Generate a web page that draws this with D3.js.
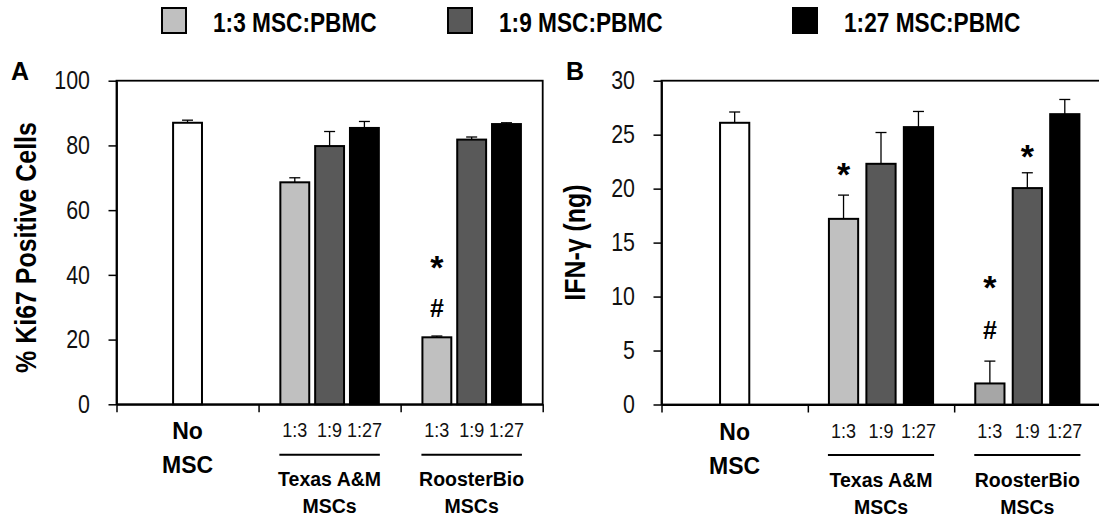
<!DOCTYPE html>
<html>
<head>
<meta charset="utf-8">
<script src="https://cdn.jsdelivr.net/npm/d3@7"></script>
<style>
  body { margin: 0; background: #fff; }
  svg { display: block; }
</style>
</head>
<body>
<svg width="1099" height="520"></svg>
<script>

// data //////////////////////////
var groups = ['No MSC', 'Texas A&M MSCs', 'RoosterBio MSCs'];
var groupLines = [['No', 'MSC'], ['Texas A&M', 'MSCs'], ['RoosterBio', 'MSCs']];
var series = ['1:3', '1:9', '1:27'];
var legendLabels = ['1:3 MSC:PBMC', '1:9 MSC:PBMC', '1:27 MSC:PBMC'];

// panel A: % Ki67 positive cells
var ki67NoMsc = 87.0, ki67NoMscErr = 0.8;
var ki67Texas = [68.6, 79.8, 85.4];
var ki67TexasErr = [1.4, 4.5, 2.0];
var ki67Rooster = [20.7, 81.8, 86.6];
var ki67RoosterErr = [0.4, 0.8, 0.4];
var ki67Ticks = [0, 20, 40, 60, 80, 100];
var ki67Marks = [
  {group: 'RoosterBio MSCs', series: '1:3', text: '*', value: 44.6},
  {group: 'RoosterBio MSCs', series: '1:3', text: '#', value: 29.7}
];

// panel B: IFN-gamma (ng)
var ifnNoMsc = 26.1, ifnNoMscErr = 1.0;
var ifnTexas = [17.2, 22.3, 25.7];
var ifnTexasErr = [2.2, 2.9, 1.45];
var ifnRooster = [1.95, 20.05, 26.9];
var ifnRoosterErr = [2.07, 1.42, 1.36];
var ifnTicks = [0, 5, 10, 15, 20, 25, 30];
var ifnMarks = [
  {group: 'Texas A&M MSCs', series: '1:3', text: '*', value: 22.0},
  {group: 'RoosterBio MSCs', series: '1:3', text: '*', value: 11.5},
  {group: 'RoosterBio MSCs', series: '1:3', text: '#', value: 6.9},
  {group: 'RoosterBio MSCs', series: '1:9', text: '*', value: 23.7}
];

var colors = ['#c0c0c0', '#595959', '#000000'];
var font = '"Liberation Sans", Arial, sans-serif';
// no narrow face installed: squeeze glyphs horizontally instead
var narrowX = 0.84;

var svg = d3.select('svg');

// legend
var legend = svg.append('g').selectAll('g').data(legendLabels).enter().append('g')
  .attr('transform', function(d, i) { return 'translate(' + [161, 447, 792][i] + ',0)'; });
legend.append('rect')
  .attr('x', 1).attr('y', 8).attr('width', 24).attr('height', 25)
  .attr('fill', function(d, i) { return colors[i]; })
  .attr('stroke', '#000').attr('stroke-width', 2);
legend.append('text')
  .attr('transform', 'translate(52,32) scale(' + narrowX + ',1)')
  .style('font-family', font).style('font-weight', 'bold').style('font-size', '27px')
  .text(function(d) { return d; });

function drawPanel(p) {
  var g = svg.append('g');

  var x = d3.scaleBand().domain(groups).range([p.left, p.right]);
  var xEdge = d3.scaleLinear().domain([0, groups.length]).range([p.left, p.right]);
  var y = d3.scaleLinear().domain([0, p.yMax]).range([p.bottom, p.top]);
  var step = x.bandwidth() * p.stepFrac;
  var bw = step * p.barFrac;

  var bars = [{group: groups[0], series: null, value: p.noMsc, err: p.noMscErr}];
  series.forEach(function(s, i) {
    bars.push({group: groups[1], series: s, value: p.texas[i], err: p.texasErr[i]});
  });
  series.forEach(function(s, i) {
    bars.push({group: groups[2], series: s, value: p.rooster[i], err: p.roosterErr[i]});
  });

  function cx(d) {
    var c = x(d.group) + x.bandwidth() / 2;
    if (!d.series) return c;
    return c + (series.indexOf(d.series) - 1) * step;
  }

  function fill(d) {
    if (!d.series) return '#fff';
    var key = d.group + '|' + d.series;
    if (p.fillOverride && p.fillOverride[key]) return p.fillOverride[key];
    return colors[series.indexOf(d.series)];
  }

  // frame
  g.append('rect')
    .attr('x', p.left).attr('y', p.top)
    .attr('width', p.right - p.left).attr('height', p.bottom - p.top)
    .attr('fill', 'none').attr('stroke', '#000').attr('stroke-width', 1.8);

  // error bars (upper only)
  var eb = g.selectAll('g.err').data(bars).enter().append('g');
  eb.append('line')
    .attr('x1', cx).attr('x2', cx)
    .attr('y1', function(d) { return y(d.value); })
    .attr('y2', function(d) { return y(d.value + d.err); })
    .attr('stroke', '#000').attr('stroke-width', 1.3);
  eb.append('line')
    .attr('x1', function(d) { return cx(d) - 5.5; })
    .attr('x2', function(d) { return cx(d) + 5.5; })
    .attr('y1', function(d) { return y(d.value + d.err); })
    .attr('y2', function(d) { return y(d.value + d.err); })
    .attr('stroke', '#000').attr('stroke-width', 1.3);

  // bars
  g.selectAll('rect.bar').data(bars).enter().append('rect')
    .attr('class', 'bar')
    .attr('x', function(d) { return cx(d) - bw / 2; })
    .attr('width', bw)
    .attr('y', function(d) { return y(d.value); })
    .attr('height', function(d) { return y(0) - y(d.value); })
    .attr('fill', fill)
    .attr('stroke', '#000').attr('stroke-width', 2);

  // y axis
  var yAxis = g.append('g')
    .attr('transform', 'translate(' + p.left + ',0)')
    .call(d3.axisLeft(y).tickValues(p.ticks).tickSize(8).tickSizeOuter(0));
  yAxis.select('.domain').attr('stroke-width', 1.8);
  yAxis.selectAll('.tick line').attr('stroke-width', 1.5);
  yAxis.selectAll('.tick text')
    .attr('x', -26.5 / narrowX)
    .attr('transform', 'scale(' + narrowX + ',1)')
    .style('font-family', font).style('font-size', '25.5px').attr('fill', '#111');

  // x axis: ticks at group boundaries
  var xAxis = g.append('g')
    .attr('transform', 'translate(0,' + p.bottom + ')')
    .call(d3.axisBottom(xEdge).tickValues(d3.range(groups.length + 1)).tickSize(8).tickSizeOuter(0).tickFormat(''));
  xAxis.select('.domain').attr('stroke-width', 2);
  xAxis.selectAll('.tick line').attr('stroke-width', 1.5);

  // ratio labels under bars
  g.selectAll('text.ratio').data(bars.filter(function(d) { return d.series; })).enter().append('text')
    .attr('transform', function(d) { return 'translate(' + cx(d) + ',' + (p.bottom + 33) + ') scale(0.9,1)'; })
    .attr('text-anchor', 'middle')
    .style('font-family', font).style('font-size', '20px').attr('fill', '#111')
    .text(function(d) { return d.series; });

  // underline of supplier groups
  g.selectAll('line.under').data(groups.slice(1)).enter().append('line')
    .attr('x1', function(d) { return x(d) + x.bandwidth() / 2 - step - bw / 2 - 1; })
    .attr('x2', function(d) { return x(d) + x.bandwidth() / 2 + step + bw / 2 + 1; })
    .attr('y1', p.bottom + 50.5).attr('y2', p.bottom + 50.5)
    .attr('stroke', '#000').attr('stroke-width', 2);

  // group labels
  var gl = g.selectAll('text.group').data(groups).enter().append('text')
    .attr('text-anchor', 'middle')
    .attr('x', function(d) { return x(d) + x.bandwidth() / 2; })
    .style('font-family', font).style('font-weight', 'bold')
    .style('font-size', function(d, i) { return i === 0 ? '23px' : '19.5px'; });
  gl.append('tspan')
    .attr('x', function(d) { return x(d) + x.bandwidth() / 2; })
    .attr('y', function(d, i) { return i === 0 ? p.bottom + 35 : p.bottom + 82; })
    .text(function(d, i) { return groupLines[i][0]; });
  gl.append('tspan')
    .attr('x', function(d) { return x(d) + x.bandwidth() / 2; })
    .attr('y', function(d, i) { return i === 0 ? p.bottom + 69 : p.bottom + 109; })
    .text(function(d, i) { return groupLines[i][1]; });

  // significance marks
  g.selectAll('text.mark').data(p.marks).enter().append('text')
    .attr('text-anchor', 'middle')
    .attr('x', function(d) { return cx(d); })
    .attr('y', function(d) { return y(d.value); })
    .attr('dy', function(d) { return d.text === '*' ? '0.56em' : '0.36em'; })
    .style('font-family', font).style('font-weight', 'bold')
    .style('font-size', function(d) { return d.text === '*' ? '34px' : '25px'; })
    .text(function(d) { return d.text; });

  // y title
  g.append('text')
    .attr('transform', 'translate(' + p.titleX + ',' + ((p.top + p.bottom) / 2 + p.titleDy) + ') rotate(-90) scale(0.86,1)')
    .attr('text-anchor', 'middle').attr('dy', '0.35em')
    .style('font-family', font).style('font-weight', 'bold').style('font-size', '29px')
    .text(p.title);

  // panel letter
  g.append('text')
    .attr('x', p.letterX).attr('y', 80)
    .style('font-family', font).style('font-weight', 'bold').style('font-size', '25px')
    .text(p.letter);
}

drawPanel({
  left: 116.5, right: 542.7, top: 80.7, bottom: 404.3,
  yMax: 100, ticks: ki67Ticks, stepFrac: 0.245, barFrac: 0.83,
  noMsc: ki67NoMsc, noMscErr: ki67NoMscErr,
  texas: ki67Texas, texasErr: ki67TexasErr,
  rooster: ki67Rooster, roosterErr: ki67RoosterErr,
  marks: ki67Marks,
  title: '% Ki67 Positive Cells', titleX: 26, titleDy: 5,
  letter: 'A', letterX: 11
});

drawPanel({
  left: 661.5, right: 1100.5, top: 80.7, bottom: 404.5,
  yMax: 30, ticks: ifnTicks, stepFrac: 0.256, barFrac: 0.78,
  noMsc: ifnNoMsc, noMscErr: ifnNoMscErr,
  texas: ifnTexas, texasErr: ifnTexasErr,
  rooster: ifnRooster, roosterErr: ifnRoosterErr,
  marks: ifnMarks,
  fillOverride: {'RoosterBio MSCs|1:3': '#a6a6a6'},
  title: 'IFN-γ (ng)', titleX: 574.5, titleDy: 0,
  letter: 'B', letterX: 566
});

</script>
</body>
</html>
